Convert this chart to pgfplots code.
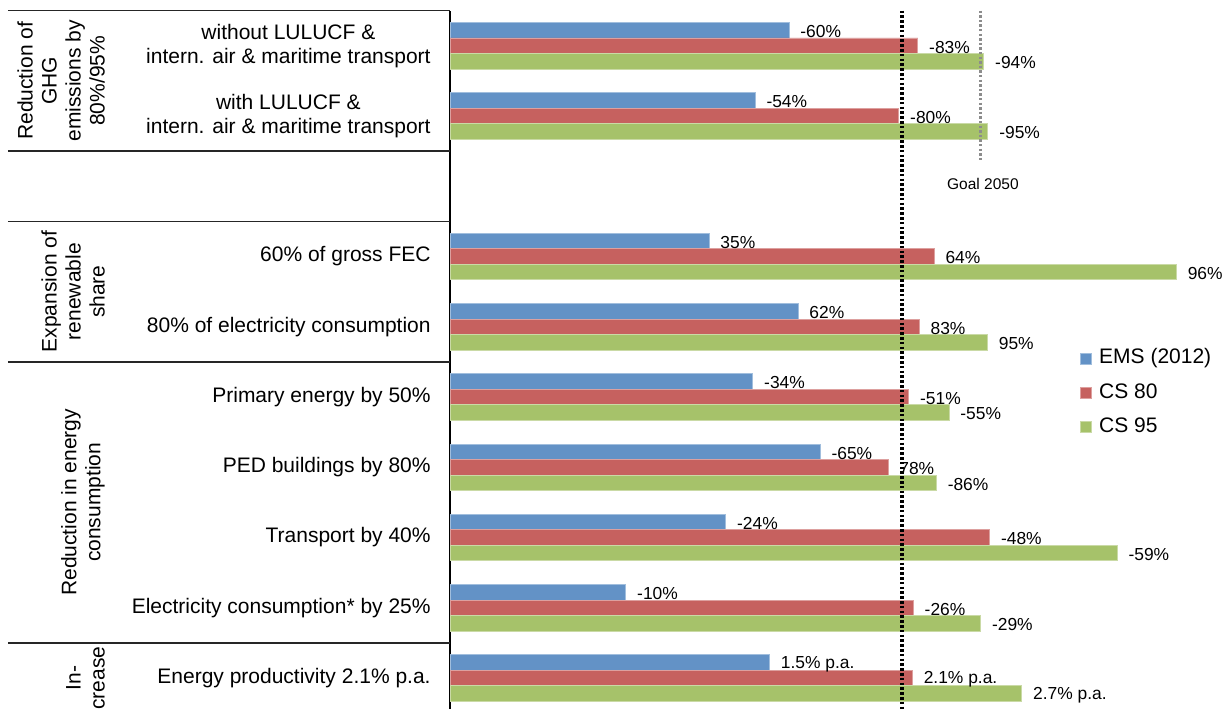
\documentclass[border=0pt]{standalone}
\usepackage{pgfplots}
\pgfplotsset{compat=1.18}
\usepackage{pgfplotstable}
\usepackage{fontspec}
\setmainfont{Liberation Sans}
\definecolor{cblue}{RGB}{99,146,198}
\definecolor{cred}{RGB}{198,97,95}
\definecolor{cgreen}{RGB}{166,194,106}

\pgfplotstableread[col sep=comma]{
y,x,lab
9,75.0,-60\%
8,67.5,-54\%
6,57.3,35\%
5,77.0,62\%
4,67.0,-34\%
3,81.9,-65\%
2,61.0,-24\%
1,38.9,-10\%
0,70.7,1.5\% p.a.
}\ems
\pgfplotstableread[col sep=comma]{
y,x,lab
9,103.5,-83\%
8,99.3,-80\%
6,107.1,64\%
5,103.8,83\%
4,101.5,-51\%
3,96.9,78\%
2,119.4,-48\%
1,102.5,-26\%
0,102.3,2.1\% p.a.
}\csa
\pgfplotstableread[col sep=comma]{
y,x,lab
9,118.1,-94\%
8,119.0,-95\%
6,160.7,96\%
5,118.9,95\%
4,110.4,-55\%
3,107.6,-86\%
2,147.6,-59\%
1,117.4,-29\%
0,126.5,2.7\% p.a.
}\csb

\begin{document}
\begin{tikzpicture}
\useasboundingbox (0,0) rectangle (612pt,354.5pt);
\begin{axis}[
  at={(225pt,0pt)}, anchor=south west,
  scale only axis, width=387pt, height=349.2pt,
  xmin=0, xmax=171.24, ymin=-0.441, ymax=9.5,
  xbar, bar width=7.75pt,
  axis x line=none,
  axis y line*=left,
  y axis line style={line width=1pt, black, -},
  major tick length=0pt,
  ytick={0,1,2,3,4,5,6,8,9},
  yticklabels={Energy productivity 2.1\% p.a.,
    Electricity consumption* by 25\%,
    Transport by 40\%,
    PED buildings by 80\%,
    Primary energy by 50\%,
    80\% of electricity consumption,
    60\% of gross FEC,
    {with LULUCF \&\\intern. air \& maritime transport},
    {without LULUCF \&\\intern. air \& maritime transport}},
  yticklabel style={font=\fontsize{10.5}{12}\selectfont, align=center, inner sep=0pt, anchor=east, xshift=-9.5pt},
  clip=false,
  point meta=explicit symbolic,
  nodes near coords={\pgfplotspointmeta},
  nodes near coords style={font=\fontsize{8.7}{9}\selectfont, anchor=west, inner sep=0pt, xshift=5.5pt, yshift=-0.7pt, black},
  legend style={at={(axis cs:139.38,4.056)}, anchor=west, draw=none, fill=none,
    inner sep=0pt, font=\fontsize{10.5}{12}\selectfont, row sep=7.15pt,
    nodes={inner sep=0pt, text height=7.5pt, text depth=2.5pt},
    /tikz/every odd column/.style={column sep=3.5pt}},
  legend cell align=left,
  legend image code/.code={\fill[#1] (0pt,-2.75pt) rectangle (5.5pt,2.75pt);},
]
\addplot[fill=cblue, draw=cblue!60!white, line width=0.4pt, bar shift=7.75pt] table[x=x,y=y,meta=lab]{\ems};
\addplot[fill=cred, draw=cred!60!white, line width=0.4pt, bar shift=0pt] table[x=x,y=y,meta=lab]{\csa};
\addplot[fill=cgreen, draw=cgreen!60!white, line width=0.4pt, bar shift=-7.75pt] table[x=x,y=y,meta=lab]{\csb};
\legend{EMS (2012), CS 80, CS 95}

\draw[black, line width=1.6pt, dash pattern=on 1.3pt off 1.1pt] (axis cs:100,9.5) -- (axis cs:100,-0.441);
\draw[black!45, line width=1.4pt, dash pattern=on 1.2pt off 1.1pt] (axis cs:117.3,9.5) -- (axis cs:117.3,7.345);
\node[font=\fontsize{7.75}{9}\selectfont, inner sep=0pt] at (axis cs:117.9,7.03) {Goal 2050};

\draw[black!85, line width=0.7pt] (axis cs:-97.8,9.5) -- (axis cs:0,9.5);
\draw[black!85, line width=0.7pt] (axis cs:-97.8,7.5) -- (axis cs:0,7.5);
\draw[black!85, line width=0.7pt] (axis cs:-97.8,6.5) -- (axis cs:0,6.5);
\draw[black!85, line width=0.7pt] (axis cs:-97.8,4.5) -- (axis cs:0,4.5);
\draw[black!85, line width=0.7pt] (axis cs:-97.8,0.5) -- (axis cs:0,0.5);
\node[rotate=90, anchor=south, align=center, inner sep=0pt, font=\fontsize{10.5}{12}\selectfont] at (axis cs:-76.3,8.5) {Reduction of\\GHG\\emissions by\\80\%/95\%};
\node[rotate=90, anchor=south, align=center, inner sep=0pt, font=\fontsize{10.5}{12}\selectfont] at (axis cs:-76.3,5.5) {Expansion of\\renewable\\share};
\node[rotate=90, anchor=south, align=center, inner sep=0pt, font=\fontsize{10.5}{12}\selectfont] at (axis cs:-76.3,2.5) {Reduction in energy\\consumption};
\node[rotate=90, anchor=south, align=center, inner sep=0pt, font=\fontsize{10.5}{12}\selectfont] at (axis cs:-76.3,0) {In-\\crease};
\end{axis}
\end{tikzpicture}
\end{document}
